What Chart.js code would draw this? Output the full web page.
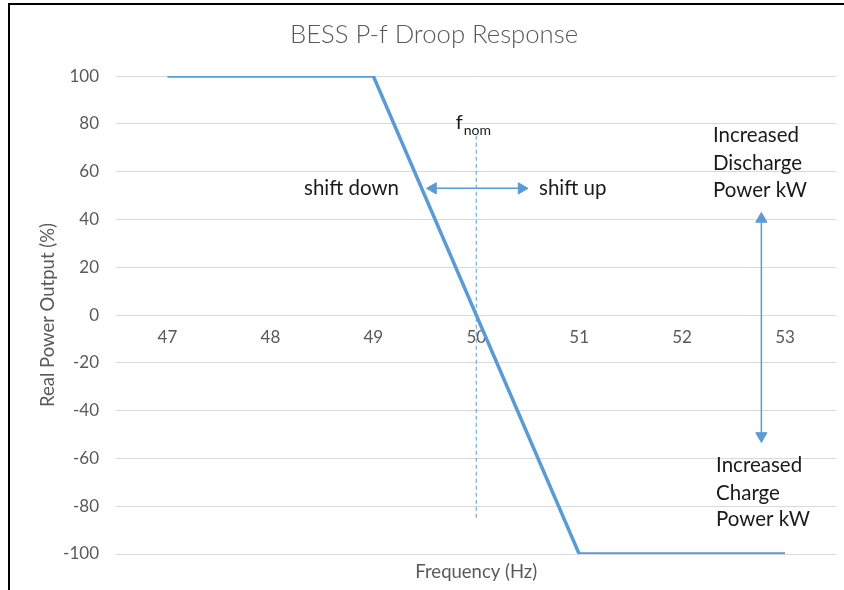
<!DOCTYPE html>
<html><head><meta charset="utf-8">
<script src="https://cdn.jsdelivr.net/npm/chart.js@4.4.1/dist/chart.umd.min.js"></script>
<style>
html,body{margin:0;padding:0;background:#fff;}
#wrap{position:relative;width:844px;height:590px;overflow:hidden;}
#frame{position:absolute;left:8px;top:3px;right:-4px;bottom:-4px;border-left:2px solid #000;border-top:2px solid #000;pointer-events:none;}
canvas{display:block}
</style></head><body>
<div id="wrap"><canvas id="c" width="844" height="590"></canvas><div id="frame"></div></div>
<script>
// ---- data ----
const frequencies = [47, 48, 49, 50, 51, 52, 53];
const powerOutput = [100, 100, 100, 0, -100, -100, -100];
const yTickValues = [-100, -80, -60, -40, -20, 0, 20, 40, 60, 80, 100];
const nominalFrequency = 50;
const nominalMarkerRange = [75, -85];
const shiftArrowX = [49.58, 50.44];
const shiftArrowY = 53;
const powerArrowX = 52.77;
const powerArrowY = [40.2, -50.6];

const chartTitle = 'BESS P-f Droop Response';
const xTitle = 'Frequency (Hz)';
const yTitle = 'Real Power Output (%)';

const textNotes = [
  {text: 'shift down', x: 49.25, y: 53, align: 'right'},
  {text: 'shift up', x: 50.61, y: 53, align: 'left'},
  {text: 'Increased', x: 52.30, y: 75.3, align: 'left'},
  {text: 'Discharge', x: 52.30, y: 63.5, align: 'left'},
  {text: 'Power kW', x: 52.30, y: 52.3, align: 'left'},
  {text: 'Increased', x: 52.33, y: -62.8, align: 'left'},
  {text: 'Charge', x: 52.33, y: -74.5, align: 'left'},
  {text: 'Power kW', x: 52.33, y: -85.6, align: 'left'}
];
const nomLabel = {main: 'f', sub: 'nom', x: 49.80, y: 80.7};

const BLUE = '#5B9BD5';
const GREY = '#595959';
const FONT = 'Lato, "Open Sans", sans-serif';

const notesPlugin = {
  id: 'notes',
  afterDatasetsDraw(chart) {
    const {ctx, scales: {x, y}} = chart;
    ctx.save();
    ctx.fillStyle = '#1a1a1a';
    ctx.textBaseline = 'middle';
    ctx.font = '20.5px ' + FONT;
    textNotes.forEach(n => {
      ctx.textAlign = n.align;
      ctx.fillText(n.text, x.getPixelForValue(n.x), y.getPixelForValue(n.y));
    });
    const px = x.getPixelForValue(nomLabel.x), py = y.getPixelForValue(nomLabel.y);
    ctx.textAlign = 'left';
    ctx.font = '20px ' + FONT;
    ctx.fillText(nomLabel.main, px, py);
    const w = ctx.measureText(nomLabel.main).width;
    ctx.font = '14px ' + FONT;
    ctx.fillText(nomLabel.sub, px + w + 1, py + 8);
    ctx.restore();
  }
};

new Chart(document.getElementById('c'), {
  type: 'line',
  data: {
    datasets: [
      {
        label: 'Droop',
        data: frequencies.map((f, i) => ({x: f, y: powerOutput[i]})),
        borderColor: BLUE, borderWidth: 3.5, pointRadius: 0, tension: 0,
        borderJoinStyle: 'miter', borderCapStyle: 'butt', fill: false
      },
      {
        label: 'fnom',
        data: nominalMarkerRange.map(v => ({x: nominalFrequency, y: v})),
        borderColor: BLUE, borderWidth: 1, borderDash: [4, 3], pointRadius: 0, fill: false
      },
      {
        label: 'shift arrow',
        data: shiftArrowX.map(v => ({x: v, y: shiftArrowY})),
        borderColor: BLUE, borderWidth: 1.5, fill: false,
        pointStyle: 'triangle', pointRadius: 6.5, pointBorderWidth: 1,
        pointBackgroundColor: BLUE, pointBorderColor: BLUE, pointRotation: [-90, 90]
      },
      {
        label: 'power arrow',
        data: powerArrowY.map(v => ({x: powerArrowX, y: v})),
        borderColor: BLUE, borderWidth: 1.5, fill: false,
        pointStyle: 'triangle', pointRadius: 6.5, pointBorderWidth: 1,
        pointBackgroundColor: BLUE, pointBorderColor: BLUE, pointRotation: [0, 180]
      }
    ]
  },
  options: {
    responsive: false,
    animation: false,
    events: [],
    layout: {padding: {left: 31, right: 7, top: 0, bottom: 0}},
    plugins: {
      legend: {display: false},
      tooltip: {enabled: false},
      title: {
        display: true, text: chartTitle, color: GREY,
        font: {family: FONT, size: 25.7, weight: '300', lineHeight: 1.2},
        padding: {top: 19.6, bottom: 25.6}
      }
    },
    scales: {
      x: {
        type: 'linear', min: 46.5, max: 53.5,
        position: {y: 0},
        afterBuildTicks: s => { s.ticks = frequencies.map(v => ({value: v})); },
        grid: {display: false, drawTicks: false},
        border: {display: false},
        ticks: {color: GREY, font: {family: FONT, size: 17}, padding: 12, maxRotation: 0,
                callback: v => String(v)}
      },
      xb: {
        type: 'linear', axis: 'x', position: 'bottom', min: 46.5, max: 53.5,
        grid: {display: false, drawTicks: false},
        border: {display: false},
        ticks: {display: false},
        afterFit: s => { s.height = 36; },
        title: {display: true, text: xTitle, color: GREY,
                font: {family: FONT, size: 18.5, lineHeight: 1.2}, padding: {top: 0, bottom: 7}}
      },
      y: {
        type: 'linear', min: -100, max: 100,
        afterBuildTicks: s => { s.ticks = yTickValues.map(v => ({value: v})); },
        afterFit: s => { s.width = 85; },
        grid: {color: '#D9D9D9', lineWidth: 1, drawTicks: false},
        border: {display: false},
        ticks: {color: GREY, font: {family: FONT, size: 17}, padding: 17},
        title: {display: true, text: yTitle, color: GREY,
                font: {family: FONT, size: 18.5, lineHeight: 1.2}, padding: {top: 6, bottom: 0}}
      }
    }
  },
  plugins: [notesPlugin]
});
</script>
</body></html>
